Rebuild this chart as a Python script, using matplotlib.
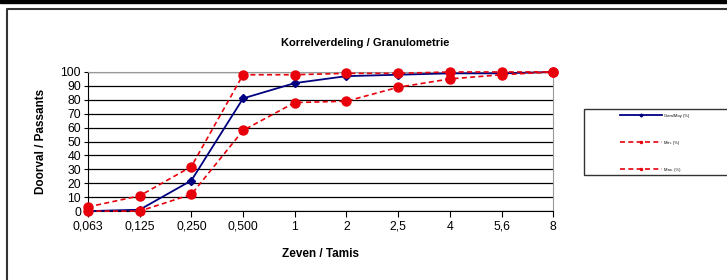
import matplotlib.pyplot as plt
from matplotlib.lines import Line2D
from matplotlib.patches import Rectangle

plt.rcParams['font.family'] = ['Liberation Sans', 'DejaVu Sans']

sieves = ['0,063', '0,125', '0,250', '0,500', '1', '2', '2,5', '4', '5,6', '8']
gem_moy = [0, 1, 22, 81, 92, 97, 98, 99, 99, 100]
min_pct = [0, 0, 12, 58, 78, 79, 89, 95, 98, 100]
max_pct = [3, 11, 32, 98, 98, 99, 99, 100, 100, 100]

navy = '#000080'
red = '#e8000b'

fig = plt.figure(figsize=(7.27, 2.8), dpi=100)
ax = fig.add_axes([0.121, 0.246, 0.640, 0.497])

x = range(len(sieves))
ax.plot(x, gem_moy, color=navy, lw=1.3, marker='D', ms=4, label='Gem/Moy (%)',
        zorder=3, clip_on=False)
ax.plot(x, min_pct, color=red, lw=1.2, ls=(0, (3, 2)), marker='o', ms=6.5,
        label='Min. (%)', zorder=4, clip_on=False)
ax.plot(x, max_pct, color=red, lw=1.2, ls=(0, (3, 2)), marker='o', ms=6.5,
        label='Max. (%)', zorder=4, clip_on=False)

ax.set_xlim(0, len(sieves) - 1)
ax.set_ylim(0, 100)
ax.set_xticks(list(x))
ax.set_xticklabels(sieves, fontsize=8.8)
ax.set_yticks(range(0, 101, 10))
ax.tick_params(axis='y', labelsize=8.8, length=3, width=0.8, pad=2)
ax.tick_params(axis='x', length=4, width=0.8, pad=3)
ax.grid(axis='y', color='black', lw=0.9)
ax.set_axisbelow(True)
for side in ['top', 'right']:
    ax.spines[side].set_color('#999999')
for side in ['left', 'bottom']:
    ax.spines[side].set_color('black')

ax.set_xlabel('Zeven / Tamis', fontsize=8.5, fontweight='bold', labelpad=11)
ax.set_ylabel('Doorval / Passants', fontsize=8.5, fontweight='bold', labelpad=10)
fig.text(0.502, 0.846, 'Korrelverdeling / Granulometrie', fontsize=8,
         fontweight='bold', ha='center', va='center')

# outer frame and top band
fig.patches.append(Rectangle((0, 0.99), 1, 0.02, transform=fig.transFigure,
                             color='black', zorder=0))
fig.lines.append(Line2D([0.0096, 0.0096, 1], [0, 0.968, 0.968],
                        transform=fig.transFigure, color='#333333', lw=1.5))

# legend box
fig.patches.append(Rectangle((0.803, 0.375), 0.3, 0.236, transform=fig.transFigure,
                             fill=False, edgecolor='#333333', lw=1.0))
handles, labels = ax.get_legend_handles_labels()
leg_handles = [
    Line2D([], [], color=navy, lw=1.3, marker='D', ms=1.5),
    Line2D([], [], color=red, lw=1.2, ls=(0, (3, 2)), marker='o', ms=1.5),
    Line2D([], [], color=red, lw=1.2, ls=(0, (3, 2)), marker='o', ms=1.5),
]
fig.legend(leg_handles, labels, loc='center left', bbox_to_anchor=(0.848, 0.49),
           frameon=False, fontsize=3, handlelength=10, labelspacing=5.5,
           handletextpad=0.6)

fig.savefig('out.png', dpi=100)
